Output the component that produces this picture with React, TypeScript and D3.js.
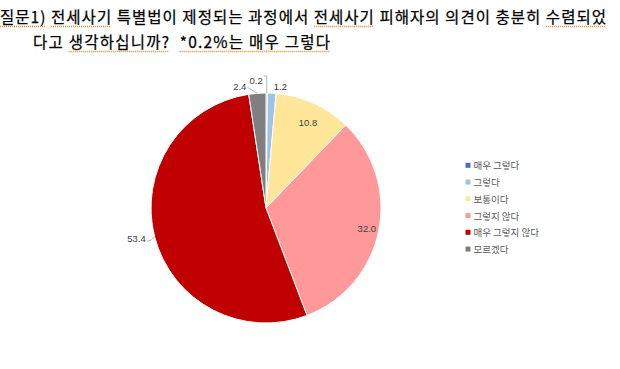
import React, { useEffect, useRef } from 'react';
import * as d3 from 'd3';

const categories = ['매우 그렇다', '그렇다', '보통이다', '그렇지 않다', '매우 그렇지 않다', '모르겠다'];
const values = [0.2, 1.2, 10.8, 32.0, 53.4, 2.4];
const valueLabels = ['0.2', '1.2', '10.8', '32.0', '53.4', '2.4'];
const colors = ['#4472C4', '#9DC3E6', '#FFE699', '#FF9999', '#C00000', '#7F7F7F'];
const titleLines = [
  '질문1) 전세사기 특별법이 제정되는 과정에서 전세사기 피해자의 의견이 충분히 수렴되었',
  '다고 생각하십니까?  *0.2%는 매우 그렇다',
];
const underlined: [number, string, number][] = [
  [0, '질문1)', 0],
  [0, '전세사기', 0],
  [0, '전세사기', 1],
  [0, '수렴되었', 0],
  [1, '생각하십니까?', 0],
  [1, '*0.2%는 매우 그렇다', 0],
];

const W = 620;
const H = 369;
const cx = 266;
const cy = 208;
const R = 115;

// label placement styles: radius factor and pixel nudges relative to arc point
const labelStyle = [
  { rf: 1.0, dx: -4, dy: -13, anchor: 'end', leader: 'elbow' },
  { rf: 1.0, dx: 2, dy: -7, anchor: 'start', leader: 'none' },
  { rf: 0.84, dx: 2, dy: 2, anchor: 'middle', leader: 'none' },
  { rf: 0.895, dx: 0, dy: 0, anchor: 'middle', leader: 'none' },
  { rf: 1.0, dx: -9, dy: 1, anchor: 'end', leader: 'curve' },
  { rf: 1.0, dx: -11, dy: -7, anchor: 'end', leader: 'line' },
];

export default function App() {
  const titleRef = useRef<SVGGElement>(null);

  const pie = d3.pie<number>().sort(null).value((d) => d)(values);
  const arc = d3.arc<d3.PieArcDatum<number>>().innerRadius(0).outerRadius(R);

  useEffect(() => {
    const g = d3.select(titleRef.current);
    g.selectAll('.ul').remove();
    const texts = g.selectAll<SVGTextElement, unknown>('text').nodes();
    underlined.forEach(([li, word, occ]) => {
      const t = texts[li];
      const s = titleLines[li];
      let idx = -1;
      for (let k = 0; k <= occ; k++) idx = s.indexOf(word, idx + 1);
      if (idx < 0) return;
      try {
        const p0 = t.getStartPositionOfChar(idx);
        const p1 = t.getEndPositionOfChar(idx + word.length - 1);
        g.append('line')
          .attr('class', 'ul')
          .attr('x1', p0.x)
          .attr('x2', p1.x)
          .attr('y1', p0.y + 3.5)
          .attr('y2', p0.y + 3.5)
          .attr('stroke', '#E8852A')
          .attr('stroke-width', 1.3)
          .attr('stroke-dasharray', '1,1');
      } catch (e) {}
    });
  }, []);

  const titleFont = '"Noto Sans CJK KR", sans-serif';

  return (
    <svg width={W} height={H} style={{ position: 'absolute', left: 0, top: 0, background: '#fff' }}>
      <g ref={titleRef} fontFamily={titleFont} fontSize={15.5} fill="#000" stroke="#000" strokeWidth={0.25}>
        <text x={0} y={23} textLength={606} lengthAdjust="spacing">
          {titleLines[0]}
        </text>
        <text x={33} y={48} textLength={297} lengthAdjust="spacing" style={{ whiteSpace: 'pre' }}>
          {titleLines[1]}
        </text>
      </g>

      <g transform={`translate(${cx},${cy})`}>
        {pie.map((p, i) => (
          <path key={i} d={arc(p) || ''} fill={colors[i]} stroke="#fff" strokeWidth={1} />
        ))}
        {pie.map((p, i) => {
          const st = labelStyle[i];
          const a = (p.startAngle + p.endAngle) / 2;
          const r = R * st.rf;
          const px = r * Math.sin(a);
          const py = -r * Math.cos(a);
          const tx = px + st.dx;
          const ty = py + st.dy;
          let leader: React.ReactNode = null;
          if (st.leader === 'line') {
            leader = <path d={`M${px},${py}L${tx + 1},${ty + 1}`} stroke="#A6A6A6" strokeWidth={0.8} fill="none" />;
          } else if (st.leader === 'elbow') {
            leader = (
              <path
                d={`M${px},${py}L${px},${ty - 4}L${tx + 1},${ty - 4}`}
                stroke="#A6A6A6"
                strokeWidth={0.8}
                fill="none"
              />
            );
          } else if (st.leader === 'curve') {
            leader = (
              <path
                d={`M${px},${py - 1}Q${px - 3},${ty + 3} ${tx + 1},${ty + 3}`}
                stroke="#A6A6A6"
                strokeWidth={0.8}
                fill="none"
              />
            );
          }
          return (
            <g key={'l' + i}>
              {leader}
              <text
                x={tx}
                y={ty}
                textAnchor={st.anchor as any}
                dominantBaseline="central"
                fontFamily='"Liberation Sans", Arial, sans-serif'
                fontSize={9.5}
                fill="#404040"
              >
                {valueLabels[i]}
              </text>
            </g>
          );
        })}
      </g>

      <g fontFamily={titleFont} fontSize={9.5} fill="#595959">
        {categories.map((c, i) => {
          const y = 165.3 + i * 16.75;
          return (
            <g key={c}>
              <rect x={465.5} y={y - 2.5} width={5} height={5} fill={colors[i]} />
              <text x={473.5} y={y} dominantBaseline="central">
                {c}
              </text>
            </g>
          );
        })}
      </g>
    </svg>
  );
}
